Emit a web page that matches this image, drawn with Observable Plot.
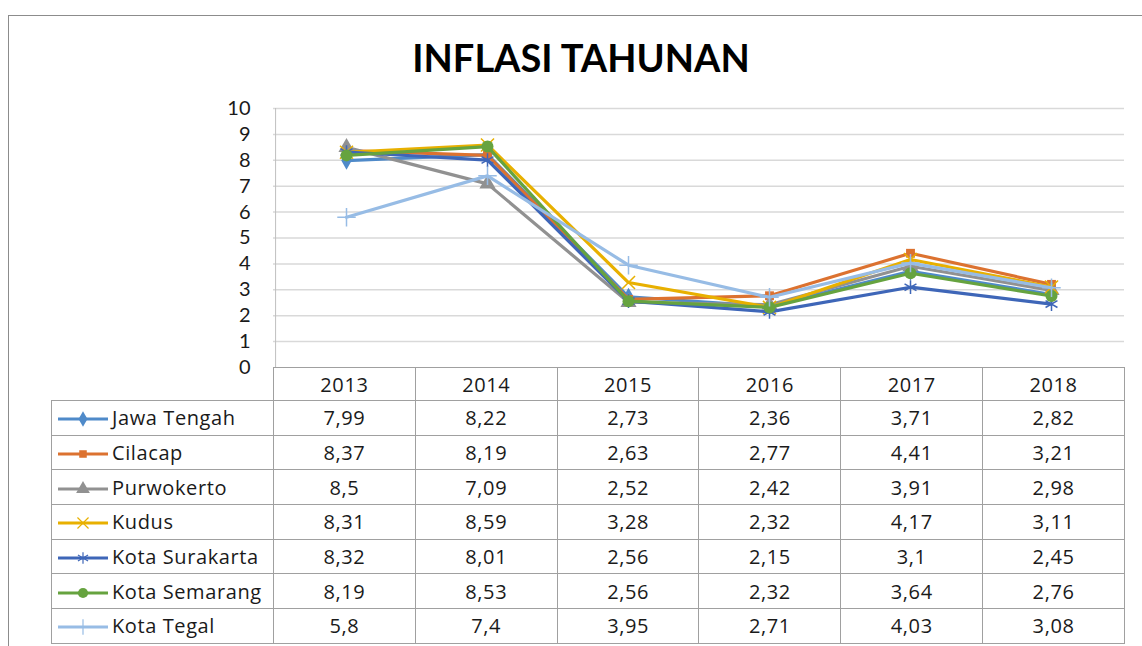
<!DOCTYPE html>
<html><head><meta charset="utf-8">
<script src="https://cdn.jsdelivr.net/npm/d3@7"></script>
<script src="https://cdn.jsdelivr.net/npm/@observablehq/plot@0.6"></script>
<style>
html,body{margin:0;padding:0;background:#fff;}
body{width:1142px;height:646px;position:relative;overflow:hidden;font-family:"Open Sans",Lato,sans-serif;color:#1a1a1a;}
#frame{position:absolute;left:8px;top:15px;width:1200px;height:700px;border:1px solid #8c8c8c;box-sizing:border-box;}
#title{position:absolute;left:0;top:34px;width:1162px;text-align:center;font-family:Lato,sans-serif;font-weight:bold;font-size:38px;line-height:46px;color:#000;}
#chart{position:absolute;left:0;top:0;}
#tbl{position:absolute;left:51px;top:367px;border-collapse:collapse;table-layout:fixed;font-size:20px;letter-spacing:0.6px;}
#tbl td{border:1px solid #a0a0a0;padding:0;text-align:center;white-space:nowrap;}
#tbl td.leg{text-align:left;}
#tbl tr.head td{height:32px;}
#tbl tr.row td{height:33.7px;}
#tbl tr.head td.blank{border:none;}
</style>
</head><body>
<div id="frame"></div>
<div id="title">INFLASI TAHUNAN</div>
<div id="chart"></div>
<table id="tbl"></table>
<script>
const years = ["2013","2014","2015","2016","2017","2018"];
const seriesNames = ["Jawa Tengah","Cilacap","Purwokerto","Kudus","Kota Surakarta","Kota Semarang","Kota Tegal"];
const seriesColors = ["#4F8AC9","#DC7230","#919191","#E8B000","#3E66B8","#66A33F","#97BCE5"];
const seriesSymbols = ["diamond","square","triangle","times","asterisk","circle","plus"];
const seriesFilled = [true,true,true,false,false,true,false];
const jawaTengah    = [7.99, 8.22, 2.73, 2.36, 3.71, 2.82];
const cilacap       = [8.37, 8.19, 2.63, 2.77, 4.41, 3.21];
const purwokerto    = [8.5, 7.09, 2.52, 2.42, 3.91, 2.98];
const kudus         = [8.31, 8.59, 3.28, 2.32, 4.17, 3.11];
const kotaSurakarta = [8.32, 8.01, 2.56, 2.15, 3.1, 2.45];
const kotaSemarang  = [8.19, 8.53, 2.56, 2.32, 3.64, 2.76];
const kotaTegal     = [5.8, 7.4, 3.95, 2.71, 4.03, 3.08];
const yTicks = [0,1,2,3,4,5,6,7,8,9,10];
const seriesValues = [jawaTengah, cilacap, purwokerto, kudus, kotaSurakarta, kotaSemarang, kotaTegal];

const W = 1142, mL = 273, mR = 18, mT = 108, mB = 13, H = 380;
const colW = (W - mL - mR) / years.length;
const symbolR = [5.5, 5, 6, 6, 6.5, 6, 6];

const marks = [
  Plot.ruleY(yTicks.slice(1), {stroke: "#d9d9d9", strokeWidth: 1.5}),
  Plot.ruleX([years[0]], {dx: -colW / 2, stroke: "#bfbfbf", strokeWidth: 1}),
  Plot.axisY({ticks: yTicks, tickSize: 0, tickPadding: 23, fontSize: 20, label: null, tickFormat: d => String(d), fill: "#1a1a1a"})
];
seriesValues.forEach((vals, i) => {
  const data = years.map((y, j) => ({year: y, value: vals[j]}));
  marks.push(Plot.line(data, {x: "year", y: "value", stroke: seriesColors[i], strokeWidth: 3.2, curve: "linear"}));
  marks.push(Plot.dot(data, seriesFilled[i]
    ? {x: "year", y: "value", symbol: () => seriesSymbols[i], r: symbolR[i], fill: seriesColors[i], stroke: "none"}
    : {x: "year", y: "value", symbol: () => seriesSymbols[i], r: symbolR[i], stroke: seriesColors[i], strokeWidth: 1.5, fill: "none"}));
});

const chart = Plot.plot({
  width: W, height: H,
  marginLeft: mL, marginRight: mR, marginTop: mT, marginBottom: mB,
  style: {fontFamily: "Lato, 'Open Sans', sans-serif", background: "transparent", overflow: "visible"},
  x: {type: "point", domain: years, padding: 0.5, axis: null},
  y: {domain: [0, 10], axis: null, label: null},
  symbol: {type: "identity"},
  marks
});
document.getElementById("chart").appendChild(chart);

// data table with legend keys
const tbl = d3.select("#tbl");
const cg = tbl.append("colgroup");
cg.append("col").style("width", (mL - 51) + "px");
years.forEach(() => cg.append("col").style("width", colW + "px"));
const head = tbl.append("tr").attr("class", "head");
head.append("td").attr("class", "blank");
years.forEach(y => head.append("td").text(y));
const symMap = {diamond: d3.symbolDiamond, square: d3.symbolSquare, triangle: d3.symbolTriangle, times: d3.symbolTimes, asterisk: d3.symbolAsterisk, circle: d3.symbolCircle, plus: d3.symbolPlus};
seriesNames.forEach((name, i) => {
  const tr = tbl.append("tr").attr("class", "row");
  const td = tr.append("td").attr("class", "leg");
  const sv = td.append("svg").attr("width", 60).attr("height", 16).style("vertical-align", "-2px");
  sv.append("line").attr("x1", 6).attr("x2", 56).attr("y1", 8).attr("y2", 8).attr("stroke", seriesColors[i]).attr("stroke-width", 3);
  const r = symbolR[i] * 0.85;
  const p = sv.append("path").attr("transform", "translate(31,8)")
    .attr("d", d3.symbol(symMap[seriesSymbols[i]], r * r * Math.PI)());
  if (seriesFilled[i]) p.attr("fill", seriesColors[i]);
  else p.attr("fill", "none").attr("stroke", seriesColors[i]).attr("stroke-width", 1.2);
  td.append("span").text(name);
  seriesValues[i].forEach(v => tr.append("td").text(String(v).replace(".", ",")));
});
</script>
</body></html>
